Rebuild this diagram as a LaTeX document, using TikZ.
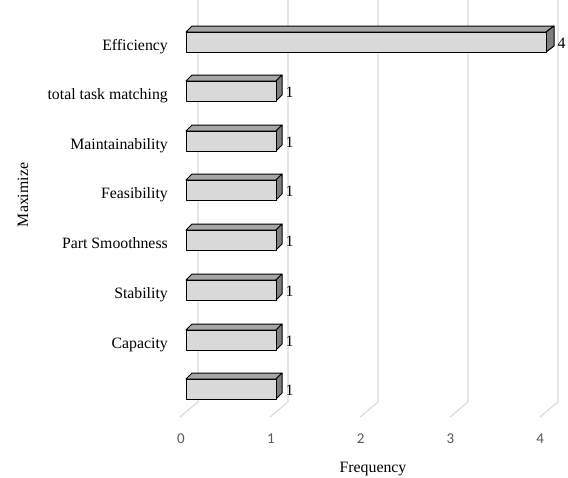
\documentclass[tikz,border=0pt]{standalone}
\usepackage{fontspec}
\setmainfont{Liberation Serif}
\newfontfamily\tickfont{Carlito}
\definecolor{gridc}{HTML}{D9D9D9}
\definecolor{barfront}{HTML}{D9D9D9}
\definecolor{bartop}{HTML}{A6A6A6}
\definecolor{barside}{HTML}{7F7F7F}
\definecolor{ticktxt}{HTML}{595959}
\begin{document}
\begin{tikzpicture}[x=1pt,y=-1pt,
  gridline/.style={draw=gridc, line width=1.1pt},
  barface/.style={draw=black, line width=1pt, line join=round},
  cat/.style={font=\fontsize{15.8}{18}\selectfont, inner sep=0pt, anchor=base east},
  val/.style={font=\fontsize{15.8}{18}\selectfont, inner sep=0pt, anchor=base west},
  tick/.style={font=\tickfont\fontsize{15}{18}\selectfont, text=ticktxt, inner sep=0pt, anchor=base},
  axtitle/.style={font=\fontsize{15.8}{18}\selectfont, inner sep=0pt, anchor=base}]
\useasboundingbox (0,0) rectangle (568,477);
% 3D gridlines
\foreach \k in {0,...,4}{
  \draw[gridline] (198+90*\k,0) -- (198+90*\k,402) -- (180+90*\k,417);
}
% bars
\foreach \c/\v/\d/\nm/\lab in {42/4/8/eff/Efficiency, 91/1/6/ttm/total task matching, 141/1/6/mnt/Maintainability, 190/1/6/fea/Feasibility, 240/1/6/psm/Part Smoothness, 290/1/6/stb/Stability, 340/1/6/cap/Capacity, 389/1/6/emp/}{
  \pgfmathsetmacro{\xa}{186+90*\v}
  \filldraw[barface, fill=bartop] (186,\c-10) -- (\xa,\c-10) -- (\xa+\d,\c-16) -- (192,\c-16) -- cycle;
  \filldraw[barface, fill=barside] (\xa,\c-10) -- (\xa+\d,\c-16) -- (\xa+\d,\c+4) -- (\xa,\c+10) -- cycle;
  \filldraw[barface, fill=barfront] (186,\c-10) rectangle (\xa,\c+10);
  \node[val] (val\nm) at (\xa+\d+3.5,\c+6.5) {\v};
  \node[cat] (lab\nm) at (168,\c+8.5) {\lab};
}
% tick labels
\foreach \k in {0,...,4}{
  \node[tick] (t\k) at (181+89.8*\k,443) {\k};
}
\node[axtitle] (xtitle) at (373,472) {Frequency};
\node[axtitle, rotate=90] (ytitle) at (28,195) {Maximize};
\end{tikzpicture}
\end{document}
